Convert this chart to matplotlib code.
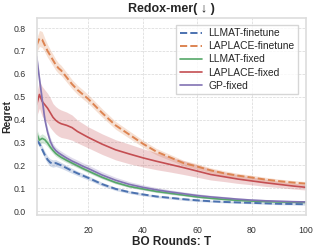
import numpy as np
import matplotlib
matplotlib.use("Agg")
import matplotlib.pyplot as plt
import seaborn as sns

sns.set_theme(style="whitegrid")
plt.rcParams['font.family'] = ['Liberation Sans', 'DejaVu Sans']

rounds = [1, 2, 3, 4, 5, 6, 7, 8, 9, 10, 12, 14, 16, 18, 20, 25, 30, 35, 40,
          45, 50, 55, 60, 65, 70, 75, 80, 85, 90, 95, 100]

llmat_ft = [0.31, 0.295, 0.27, 0.245, 0.225, 0.212, 0.208, 0.21, 0.205, 0.2,
            0.188, 0.176, 0.165, 0.155, 0.145, 0.118, 0.097, 0.083, 0.073,
            0.064, 0.058, 0.052, 0.047, 0.043, 0.04, 0.038, 0.036, 0.034,
            0.032, 0.031, 0.03]
llmat_ft_err = [0.012, 0.013, 0.015, 0.016, 0.016, 0.016, 0.016, 0.015, 0.014,
                0.013, 0.012, 0.011, 0.01, 0.01, 0.009, 0.008, 0.007, 0.006,
                0.006, 0.005, 0.005, 0.005, 0.005, 0.004, 0.004, 0.004, 0.004,
                0.004, 0.004, 0.004, 0.004]

laplace_ft = [0.725, 0.755, 0.75, 0.725, 0.70, 0.68, 0.66, 0.64, 0.625, 0.615,
              0.585, 0.555, 0.53, 0.51, 0.49, 0.43, 0.375, 0.335, 0.295, 0.26,
              0.235, 0.21, 0.195, 0.178, 0.165, 0.155, 0.147, 0.138, 0.131,
              0.125, 0.12]
laplace_ft_err = [0.03, 0.035, 0.035, 0.03, 0.028, 0.026, 0.025, 0.024, 0.023,
                  0.022, 0.021, 0.02, 0.02, 0.02, 0.019, 0.018, 0.017, 0.016,
                  0.015, 0.014, 0.013, 0.012, 0.012, 0.011, 0.011, 0.01, 0.01,
                  0.01, 0.009, 0.009, 0.009]

llmat_fix = [0.34, 0.31, 0.318, 0.312, 0.298, 0.28, 0.265, 0.252, 0.243, 0.235,
             0.222, 0.21, 0.198, 0.186, 0.175, 0.148, 0.125, 0.108, 0.097,
             0.086, 0.078, 0.07, 0.062, 0.056, 0.051, 0.047, 0.044, 0.042,
             0.04, 0.039, 0.038]
llmat_fix_err = [0.02, 0.02, 0.02, 0.018, 0.016, 0.014, 0.013, 0.012, 0.011,
                 0.011, 0.01, 0.009, 0.009, 0.008, 0.008, 0.007, 0.006, 0.005,
                 0.005, 0.005, 0.005, 0.004, 0.004, 0.004, 0.004, 0.004, 0.004,
                 0.004, 0.004, 0.004, 0.004]

laplace_fix = [0.465, 0.51, 0.48, 0.465, 0.45, 0.43, 0.41, 0.397, 0.388, 0.382,
               0.375, 0.365, 0.348, 0.335, 0.322, 0.293, 0.268, 0.25, 0.233,
               0.218, 0.204, 0.19, 0.175, 0.16, 0.15, 0.14, 0.132, 0.124,
               0.117, 0.11, 0.104]
laplace_fix_err = [0.05, 0.06, 0.065, 0.065, 0.065, 0.065, 0.06, 0.06, 0.06,
                   0.06, 0.058, 0.055, 0.05, 0.048, 0.046, 0.045, 0.044, 0.043,
                   0.04, 0.037, 0.033, 0.03, 0.027, 0.024, 0.021, 0.019, 0.017,
                   0.016, 0.014, 0.013, 0.012]

gp_fix = [0.675, 0.58, 0.49, 0.40, 0.345, 0.305, 0.28, 0.265, 0.255, 0.247,
          0.232, 0.219, 0.208, 0.196, 0.186, 0.158, 0.135, 0.117, 0.104, 0.093,
          0.084, 0.076, 0.068, 0.062, 0.057, 0.052, 0.048, 0.045, 0.043,
          0.041, 0.04]
gp_fix_err = [0.02, 0.02, 0.02, 0.02, 0.018, 0.016, 0.015, 0.015, 0.015, 0.015,
              0.015, 0.015, 0.015, 0.015, 0.015, 0.014, 0.013, 0.012, 0.011,
              0.01, 0.009, 0.008, 0.008, 0.007, 0.007, 0.006, 0.006, 0.006,
              0.006, 0.006, 0.006]

pal = sns.color_palette("deep")
series = [
    ("LLMAT-finetune", llmat_ft, llmat_ft_err, pal[0], "--"),
    ("LAPLACE-finetune", laplace_ft, laplace_ft_err, pal[1], "--"),
    ("LLMAT-fixed", llmat_fix, llmat_fix_err, pal[2], "-"),
    ("LAPLACE-fixed", laplace_fix, laplace_fix_err, pal[3], "-"),
    ("GP-fixed", gp_fix, gp_fix_err, pal[4], "-"),
]

fig = plt.figure(figsize=(3.19, 2.48), dpi=100)
ax = fig.add_axes([0.115, 0.135, 0.844, 0.794])

x = np.array(rounds)
for name, mean, err, col, ls in series:
    mean = np.array(mean)
    err = np.array(err)
    ax.fill_between(x, mean - err, mean + err, color=col, alpha=0.25, lw=0)
    ax.plot(x, mean, ls, color=col, lw=1.4 if ls == "--" else 1.2, label=name)

ax.set_xlim(1, 100)
ax.set_ylim(-0.015, 0.846)
ax.set_xticks([20, 40, 60, 80, 100])
ax.set_yticks(np.arange(0, 0.81, 0.1))
ax.tick_params(labelsize=6.3, pad=2, colors='#333333')
ax.grid(True, linestyle='--', linewidth=0.5, color='#d8d8d8')
for s in ax.spines.values():
    s.set_color('#dddddd')
    s.set_linewidth(1.2)

ax.set_title("Redox-mer( \u2193 )", fontsize=9, fontweight='bold', pad=4)
ax.set_xlabel("BO Rounds: T", fontsize=8.5, fontweight='bold', labelpad=1)
ax.set_ylabel("Regret", fontsize=7.5, fontweight='bold', labelpad=1)

ax.legend(loc='upper right', fontsize=7.4, frameon=True, handlelength=2.2,
          labelspacing=0.3, borderpad=0.35, handletextpad=0.6,
          bbox_to_anchor=(0.99, 0.99), fancybox=False)

fig.savefig("out.png", dpi=100)
